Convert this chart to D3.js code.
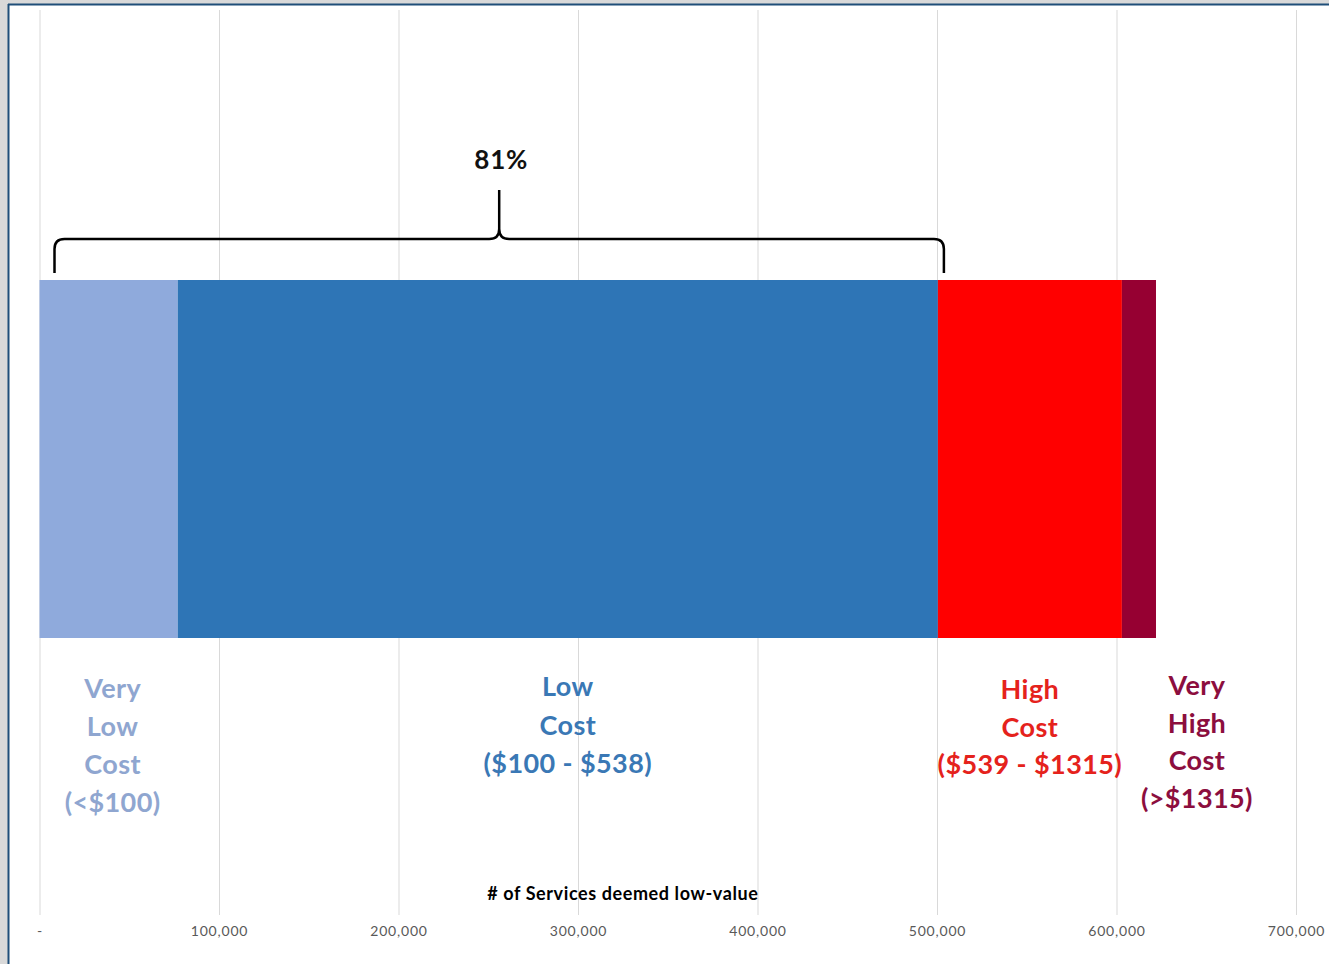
<!DOCTYPE html>
<html>
<head>
<meta charset="utf-8">
<script src="https://cdn.jsdelivr.net/npm/d3@7"></script>
<style>
  html, body { margin: 0; padding: 0; background: #d9d9d9; }
  svg { display: block; }
</style>
</head>
<body>
<svg id="chart" width="1329" height="964"></svg>
<script>
// ---- data ----
const categories = ["Very Low Cost", "Low Cost", "High Cost", "Very High Cost"];
const labelLines = [
  ["Very", "Low", "Cost", "(<$100)"],
  ["Low", "Cost", "($100 - $538)"],
  ["High", "Cost", "($539 - $1315)"],
  ["Very", "High", "Cost", "(>$1315)"]
];
const values = [77000, 423500, 102500, 19000];
const tickValues = [0, 100000, 200000, 300000, 400000, 500000, 600000, 700000];
const tickLabels = ["-", "100,000", "200,000", "300,000", "400,000", "500,000", "600,000", "700,000"];
const axisTitle = "# of Services deemed low-value";
const bracketLabel = "81%";
const bracketCategories = 2; // first two segments

// ---- styles ----
const barColors = ["#8faadc", "#2e75b6", "#ff0000", "#960032"];
const labelColors = ["#8fa6d0", "#3a78b5", "#e5221c", "#8c0e3e"];
const labelDx = [4, 10, 0, 58];
const labelTop = [689, 687, 690, 686];
const lineHeight = [38, 38.5, 37.5, 37.5];
const FONT = "Lato, 'Open Sans', sans-serif";

const svg = d3.select("#chart");
const W = 1329, H = 964;

// frame
svg.append("rect").attr("x", 0).attr("y", 0).attr("width", W).attr("height", H).attr("fill", "#d9d9d9");
svg.append("rect").attr("x", 9).attr("y", 5).attr("width", W - 9).attr("height", H - 5).attr("fill", "#ffffff");
svg.append("line").attr("x1", 8.5).attr("x2", 8.5).attr("y1", 4).attr("y2", H).attr("stroke", "#1f4e79").attr("stroke-width", 2);
svg.append("line").attr("x1", 8).attr("x2", W).attr("y1", 4.5).attr("y2", 4.5).attr("stroke", "#1f4e79").attr("stroke-width", 2);

const x = d3.scaleLinear().domain([0, 700000]).range([39.5, 1296]);
const y = d3.scaleBand().domain(["Services"]).range([280, 638]).padding(0);

const gridTop = 10, gridBottom = 915;

// gridlines
svg.append("g")
  .attr("transform", `translate(0,${gridBottom})`)
  .call(d3.axisBottom(x).tickValues(tickValues).tickSize(-(gridBottom - gridTop)).tickFormat(""))
  .call(g => g.select(".domain").remove())
  .call(g => g.selectAll("line").attr("stroke", "#d9d9d9").attr("stroke-width", 1));

// tick labels
svg.append("g")
  .attr("transform", `translate(0,${gridBottom})`)
  .call(d3.axisBottom(x).tickValues(tickValues).tickSize(0).tickPadding(11).tickFormat((d, i) => tickLabels[i]))
  .call(g => g.select(".domain").remove())
  .call(g => g.selectAll("text").attr("fill", "#595959").attr("font-size", 14)
    .attr("letter-spacing", 0.8).attr("font-family", FONT));

// stacked data
let cum = 0;
const segs = values.map((v, i) => { const s = { i, cat: categories[i], x0: cum, x1: cum + v }; cum += v; return s; });

svg.append("g").selectAll("rect").data(segs).join("rect")
  .attr("x", d => x(d.x0))
  .attr("y", y("Services"))
  .attr("width", d => x(d.x1) - x(d.x0))
  .attr("height", y.bandwidth())
  .attr("fill", d => barColors[d.i]);

// category labels
const lg = svg.append("g");
segs.forEach(d => {
  const cx = x((d.x0 + d.x1) / 2) + labelDx[d.i];
  const t = lg.append("text")
    .attr("text-anchor", "middle")
    .attr("font-family", FONT)
    .attr("font-weight", "bold")
    .attr("font-size", 27)
    .attr("letter-spacing", 0.4)
    .attr("fill", labelColors[d.i]);
  labelLines[d.i].forEach((ln, k) => {
    t.append("tspan").attr("x", cx).attr("y", labelTop[d.i] + 9 + k * lineHeight[d.i]).text(ln);
  });
});

// axis title
svg.append("text")
  .attr("x", x(325000))
  .attr("y", 900)
  .attr("text-anchor", "middle")
  .attr("font-family", FONT)
  .attr("font-weight", "bold")
  .attr("font-size", 18)
  .attr("letter-spacing", 0.6)
  .attr("fill", "#000")
  .text(axisTitle);

// bracket
const bx0 = x(0) + 15;
const bx1 = x(segs[bracketCategories - 1].x1) + 6;
const bmid = (bx0 + bx1) / 2;
const by = 239, bBot = 273, bTop = 190, r = 10;
const p = d3.path();
p.moveTo(bx0, bBot);
p.lineTo(bx0, by + r);
p.quadraticCurveTo(bx0, by, bx0 + r, by);
p.lineTo(bmid - r, by);
p.quadraticCurveTo(bmid, by, bmid, by - r);
p.lineTo(bmid, bTop);
p.moveTo(bmid, by - r);
p.quadraticCurveTo(bmid, by, bmid + r, by);
p.lineTo(bx1 - r, by);
p.quadraticCurveTo(bx1, by, bx1, by + r);
p.lineTo(bx1, bBot);
svg.append("path").attr("d", p.toString()).attr("fill", "none").attr("stroke", "#000").attr("stroke-width", 2.5);

svg.append("text")
  .attr("x", bmid + 2)
  .attr("y", 169)
  .attr("text-anchor", "middle")
  .attr("font-family", FONT)
  .attr("font-weight", "bold")
  .attr("font-size", 26)
  .attr("letter-spacing", 0.8)
  .attr("fill", "#111")
  .text(bracketLabel);
</script>
</body>
</html>
